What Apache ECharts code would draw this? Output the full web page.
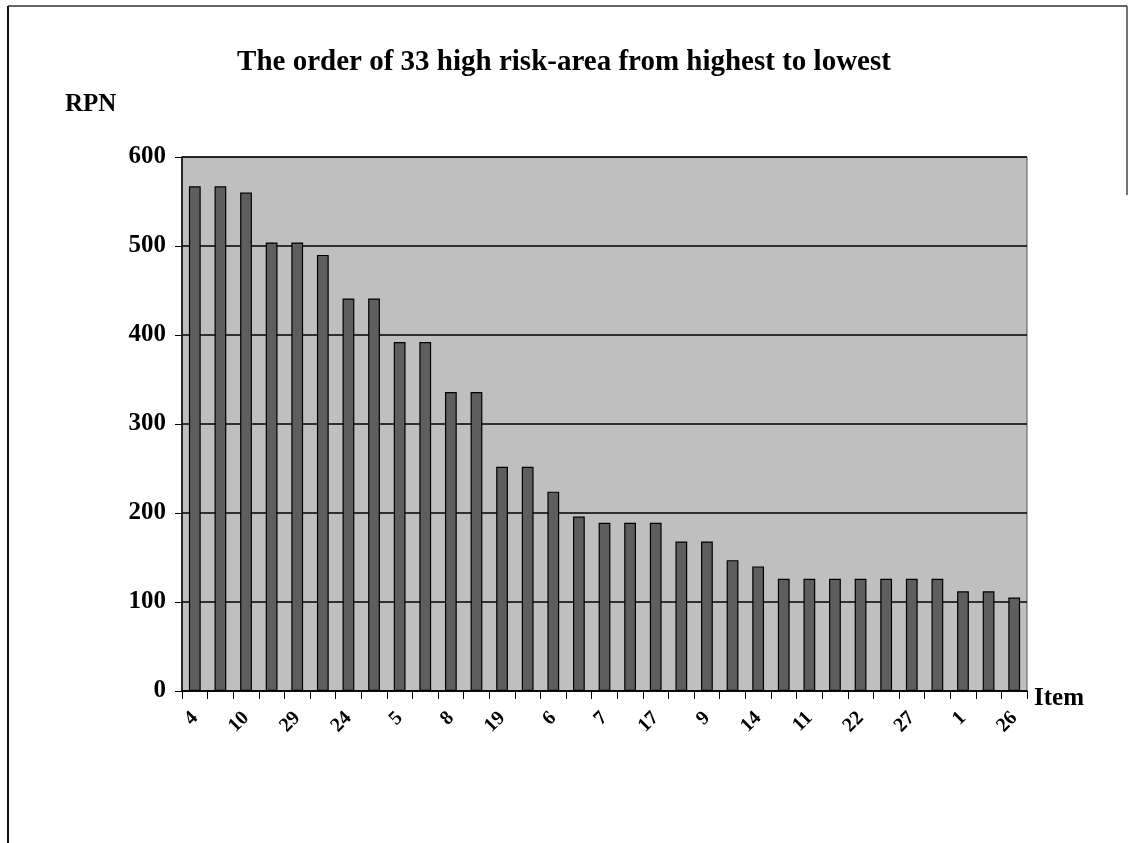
<!DOCTYPE html>
<html>
<head>
<meta charset="utf-8">
<script src="https://cdn.jsdelivr.net/npm/echarts@6/dist/echarts.min.js"></script>
<style>
html,body{margin:0;padding:0;background:#fff;}
#chart{width:1128px;height:843px;}
</style>
</head>
<body>
<div id="chart"></div>
<script>
// Items ordered from highest to lowest RPN (every other label shown, as in the original)
const items = ['4','2','10','3','29','12','24','13','5','15','8','16','19','18','6','20','7','21','17','23','9','25','14','28','11','30','22','31','27','32','1','33','26'];
const rpn = [567,567,560,504,504,490,441,441,392,392,336,336,252,252,224,196,189,189,189,168,168,147,140,126,126,126,126,126,126,126,112,112,105];
const yTicks = [0,100,200,300,400,500,600];
const titleText = 'The order of 33 high risk-area from highest to lowest';
const yName = 'RPN';
const xName = 'Item';

const serif = '"Liberation Serif","DejaVu Serif",serif';
const chart = echarts.init(document.getElementById('chart'));
chart.setOption({
  backgroundColor: '#ffffff',
  animation: false,
  title: {
    text: titleText,
    left: 'center',
    top: 43,
    textStyle: {fontFamily: serif, fontWeight: 'bold', fontSize: 29, color: '#000', letterSpacing: -0.9}
  },
  grid: {left: 182, right: 101, top: 157, bottom: 152, show: true, backgroundColor: '#bfbfbf', borderColor: '#555', borderWidth: 1},
  graphic: [
    {type: 'line', shape: {x1: 8, y1: 6, x2: 8, y2: 843}, style: {stroke: '#111', lineWidth: 2}},
    {type: 'line', shape: {x1: 8, y1: 6, x2: 1127, y2: 6}, style: {stroke: '#333', lineWidth: 1.5}},
    {type: 'line', shape: {x1: 1127, y1: 6, x2: 1127, y2: 195}, style: {stroke: '#444', lineWidth: 1.5}},
    {type: 'text', left: 65, top: 92, style: {text: yName, fontFamily: serif, fontWeight: 'bold', fontSize: 25, fill: '#000', letterSpacing: -1}},
    {type: 'text', left: 1034, top: 686, style: {text: xName, fontFamily: serif, fontWeight: 'bold', fontSize: 25, fill: '#000', letterSpacing: -0.8}}
  ],
  xAxis: {
    type: 'category',
    data: items,
    boundaryGap: true,
    axisLine: {lineStyle: {color: '#000', width: 1.5}},
    axisTick: {show: true, interval: 0, length: 8, lineStyle: {color: '#000'}},
    axisLabel: {interval: 1, rotate: 45, margin: 24, fontFamily: serif, fontWeight: 'bold', fontSize: 20, color: '#000', letterSpacing: -1},
    splitLine: {show: false}
  },
  yAxis: {
    type: 'value',
    min: yTicks[0],
    max: yTicks[yTicks.length - 1],
    interval: 100,
    axisLine: {show: true, lineStyle: {color: '#000', width: 1.5}},
    axisTick: {show: true, length: 7, lineStyle: {color: '#000'}},
    axisLabel: {margin: 16, fontFamily: serif, fontWeight: 'bold', fontSize: 25, color: '#000', letterSpacing: -1.2},
    splitLine: {show: true, lineStyle: {color: '#000', width: 1.5}}
  },
  series: [{
    type: 'bar',
    data: rpn,
    barWidth: '46%',
    itemStyle: {color: '#5e5e5e', borderColor: '#000', borderWidth: 1.2}
  }]
});
</script>
</body>
</html>
